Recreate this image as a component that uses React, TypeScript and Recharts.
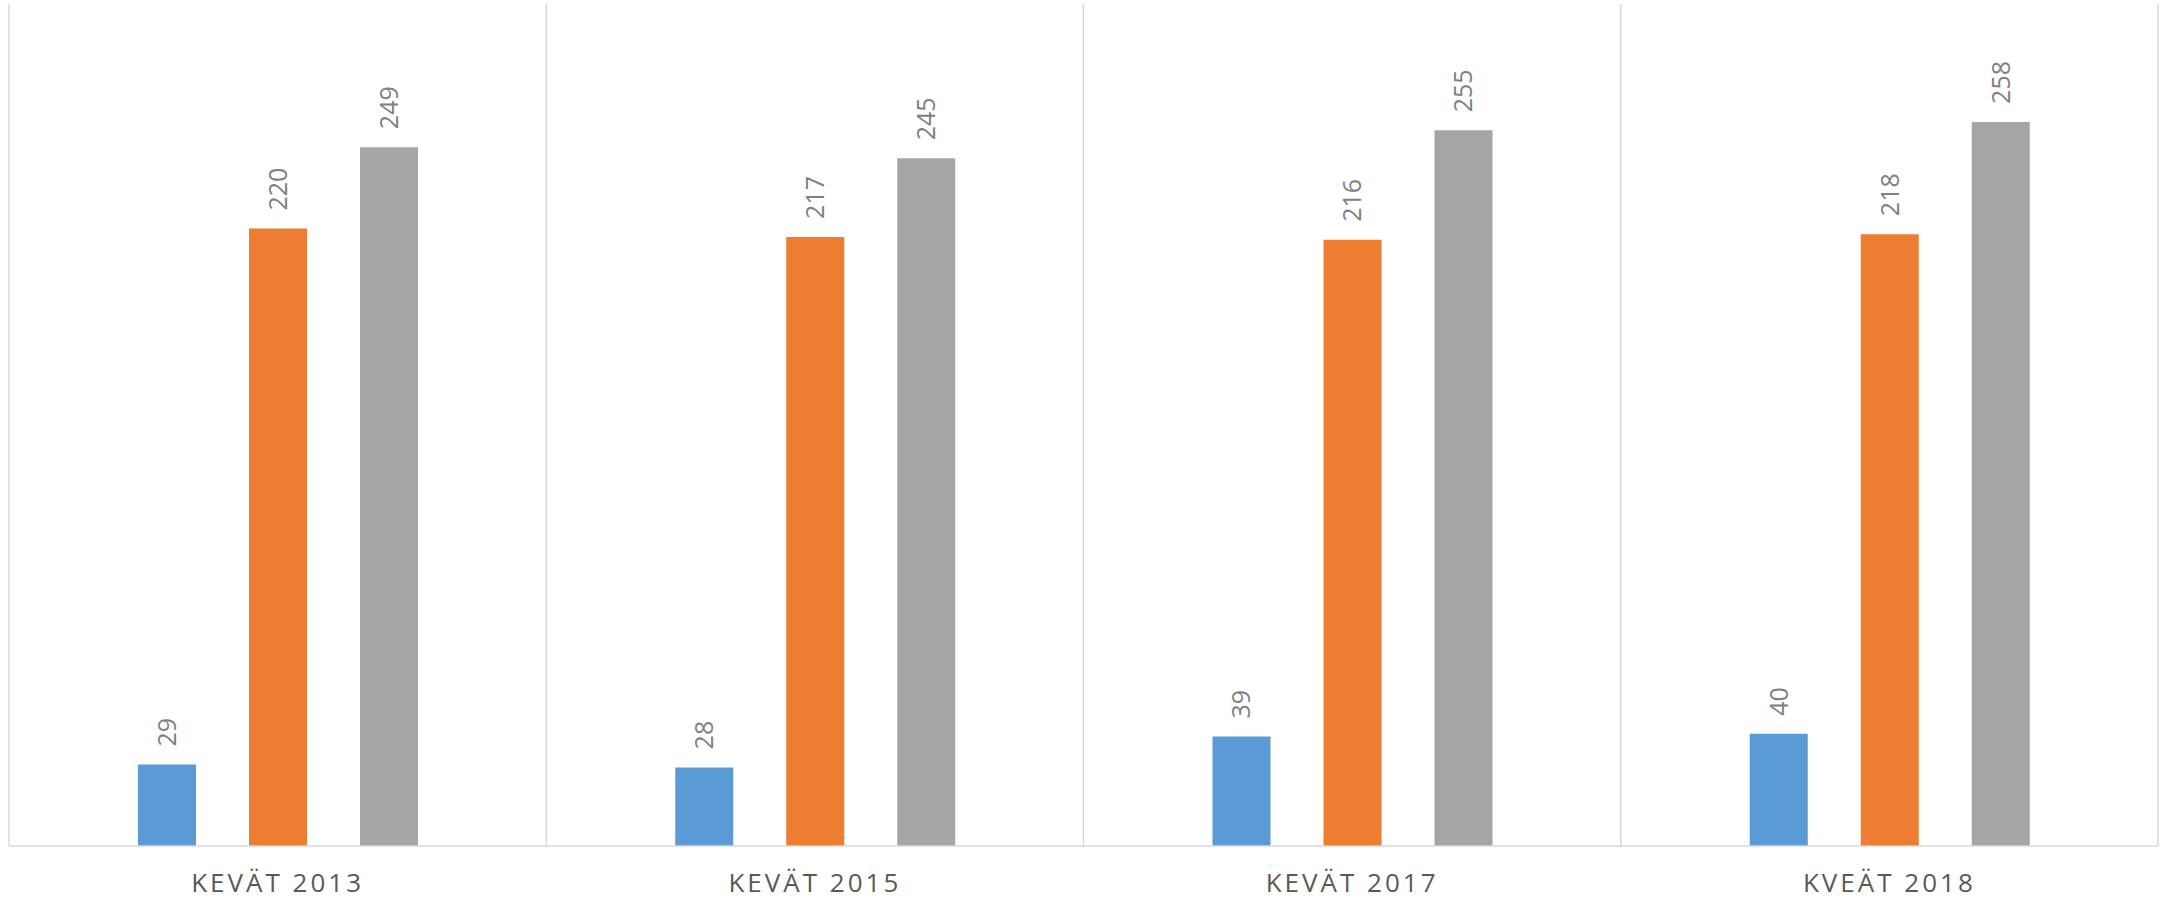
import { Bar, BarChart, CartesianGrid, LabelList, XAxis, YAxis } from "recharts"

const categories = ["KEVÄT 2013", "KEVÄT 2015", "KEVÄT 2017", "KVEÄT 2018"]
const sarja1 = [29, 28, 39, 40]
const sarja2 = [220, 217, 216, 218]
const sarja3 = [249, 245, 255, 258]

const data = categories.map((name, i) => ({
  name,
  s1: sarja1[i],
  s2: sarja2[i],
  s3: sarja3[i],
}))

const series = [
  { key: "s1", color: "#5b9bd5" },
  { key: "s2", color: "#ed7d31" },
  { key: "s3", color: "#a5a5a5" },
]

const gridColor = "#d9d9d9"

function ValueLabel(props: any) {
  const { x, y, width, value } = props
  const cx = Number(x) + Number(width) / 2
  const by = Number(y) - 18
  return (
    <text
      x={cx}
      y={by}
      dy="0.36em"
      transform={`rotate(-90 ${cx} ${by})`}
      textAnchor="start"
      fontFamily="'Open Sans', sans-serif"
      fontSize={25}
      fill="#808080"
    >
      {value}
    </text>
  )
}

function CategoryTick(props: any) {
  const { x, y, payload } = props
  return (
    <text
      x={x}
      y={y + 46}
      textAnchor="middle"
      fontFamily="'Open Sans', sans-serif"
      fontSize={26}
      letterSpacing={3}
      fill="#595959"
    >
      {payload.value}
    </text>
  )
}

export default function App() {
  return (
    <div style={{ position: "absolute", left: 0, top: 0, width: 2166, height: 899, background: "#fff" }}>
      <BarChart
        width={2166}
        height={899}
        data={data}
        margin={{ top: 4, right: 8, left: 9, bottom: 8 }}
        barSize={58}
        barGap={53}
      >
        <CartesianGrid
          horizontal={false}
          stroke={gridColor}
          strokeWidth={1.5}
          verticalCoordinatesGenerator={({ offset }: any) => {
            const pts: number[] = []
            for (let i = 0; i <= categories.length; i++) {
              pts.push(offset.left + (i * offset.width) / categories.length)
            }
            return pts
          }}
        />
        <XAxis
          dataKey="name"
          height={45}
          tickSize={0}
          tickMargin={0}
          tickLine={false}
          axisLine={{ stroke: gridColor, strokeWidth: 1.5 }}
          tick={<CategoryTick />}
          interval={0}
        />
        <YAxis hide domain={[0, 300]} />
        {series.map((s) => (
          <Bar key={s.key} dataKey={s.key} fill={s.color} isAnimationActive={false}>
            <LabelList dataKey={s.key} content={<ValueLabel />} />
          </Bar>
        ))}
      </BarChart>
    </div>
  )
}
